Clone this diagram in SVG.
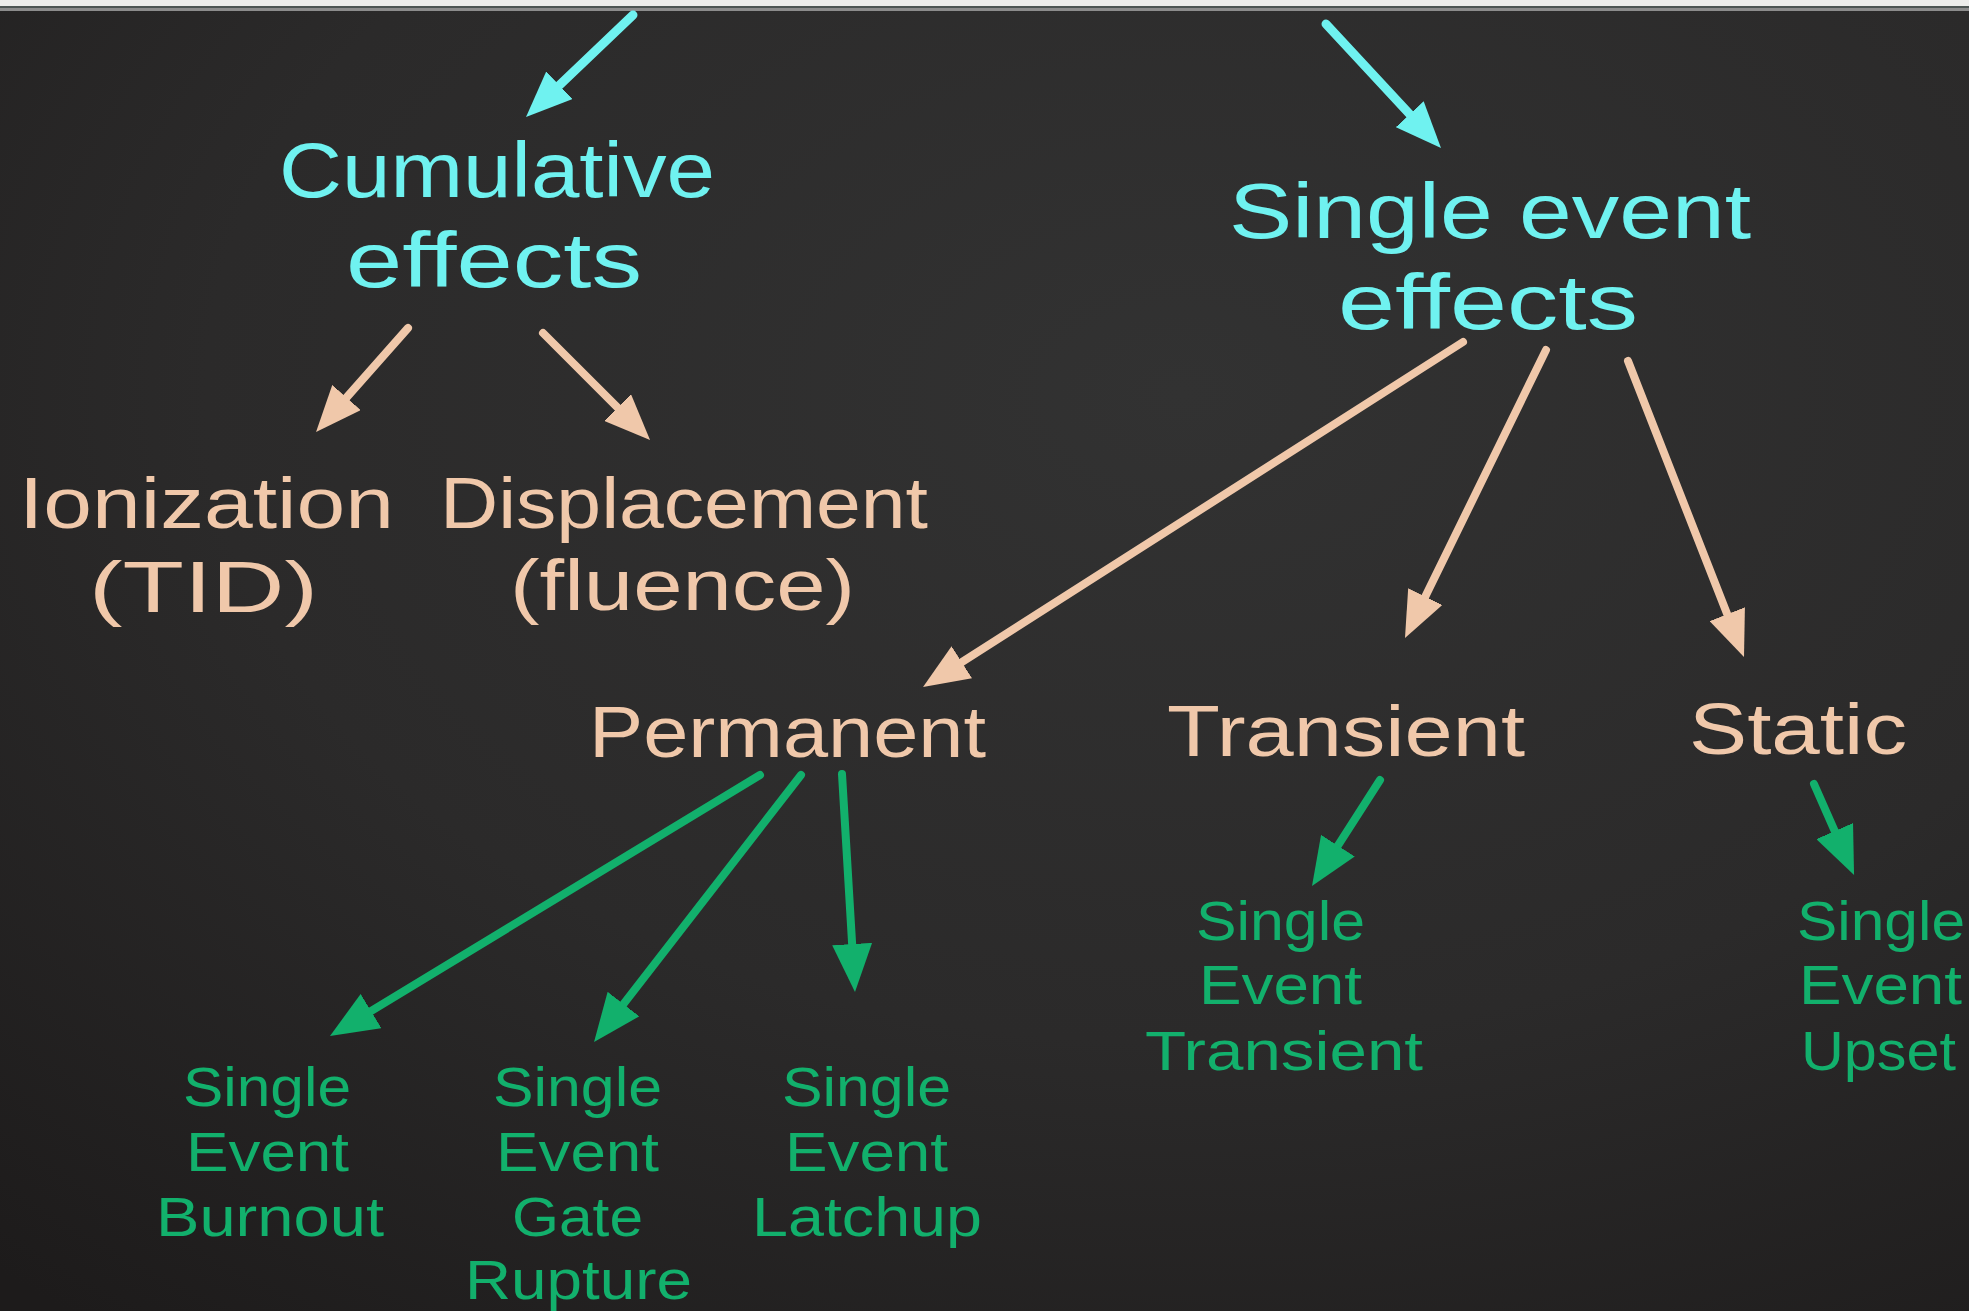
<svg xmlns="http://www.w3.org/2000/svg" width="1969" height="1311" viewBox="0 0 1969 1311">
  <style>
    text { font-family: "Liberation Sans", Arial, sans-serif; font-weight: normal; }
    .cy { fill: #6ff2f0; font-size: 78px; }
    .be { fill: #f0c8aa; font-size: 72px; }
    .gr { fill: #12b06c; font-size: 56px; }
    .lc { fill: none; stroke: #6ff2f0; stroke-width: 9; stroke-linecap: round; }
    .lb { fill: none; stroke: #f0c8aa; stroke-width: 8; stroke-linecap: round; }
    .lg { fill: none; stroke: #12b06c; stroke-width: 8; stroke-linecap: round; }
  </style>
  <defs>
    <radialGradient id="board" cx="0.6" cy="0.3" r="0.9">
      <stop offset="0" stop-color="#323232"/>
      <stop offset="0.55" stop-color="#2b2a2a"/>
      <stop offset="1" stop-color="#1d1b1b"/>
    </radialGradient>
    <marker id="hc" markerUnits="userSpaceOnUse" viewBox="0 0 46 38" markerWidth="46" markerHeight="38" refX="26" refY="19" orient="auto">
      <path d="M0,0 L46,19 L0,38 Z" fill="#6ff2f0"/>
    </marker>
    <marker id="hb" markerUnits="userSpaceOnUse" viewBox="0 0 46 38" markerWidth="46" markerHeight="38" refX="26" refY="19" orient="auto">
      <path d="M0,0 L46,19 L0,38 Z" fill="#f0c8aa"/>
    </marker>
    <marker id="hg" markerUnits="userSpaceOnUse" viewBox="0 0 48 40" markerWidth="48" markerHeight="40" refX="28" refY="20" orient="auto">
      <path d="M0,0 L48,20 L0,40 Z" fill="#12b06c"/>
    </marker>
  </defs>

  <rect x="0" y="0" width="1969" height="1311" fill="url(#board)"/>
  <rect x="0" y="0" width="1969" height="6" fill="#ededeb"/>
  <rect x="0" y="6" width="1969" height="2" fill="#4d5553"/>
  <rect x="0" y="8" width="1969" height="3" fill="#8c8c8c"/>

  <g id="connectors">
    <path class="lc" d="M633,15 L540.5,103.2" marker-end="url(#hc)"/>
    <path class="lc" d="M1326,24 L1427.4,133.3" marker-end="url(#hc)"/>
    <path class="lb" d="M408,328 L329.3,417" marker-end="url(#hb)"/>
    <path class="lb" d="M543,333 L635.9,425.9" marker-end="url(#hb)"/>
    <path class="lb" d="M1463,342 L939.9,676.2" marker-end="url(#hb)"/>
    <path class="lb" d="M1546,350 L1413.8,620" marker-end="url(#hb)"/>
    <path class="lb" d="M1628,361 L1736.7,638.4" marker-end="url(#hb)"/>
    <path class="lg" d="M1380,780 L1322.8,869.2" marker-end="url(#hg)"/>
    <path class="lg" d="M1814,784 L1846,856.7" marker-end="url(#hg)"/>
    <path class="lg" d="M760,775 L347.1,1025.6" marker-end="url(#hg)"/>
    <path class="lg" d="M801,775 L606.3,1026.2" marker-end="url(#hg)"/>
    <path class="lg" d="M842,774 L853.8,972" marker-end="url(#hg)"/>
  </g>

  <g id="cumulative">
    <text class="cy" x="279" y="197" textLength="436" lengthAdjust="spacingAndGlyphs">Cumulative</text>
    <text class="cy" x="346" y="287" textLength="296" lengthAdjust="spacingAndGlyphs">effects</text>
  </g>
  <g id="single-event-effects">
    <text class="cy" x="1229" y="238" textLength="522" lengthAdjust="spacingAndGlyphs">Single event</text>
    <text class="cy" x="1338" y="329" textLength="300" lengthAdjust="spacingAndGlyphs">effects</text>
  </g>
  <g id="ionization">
    <text class="be" x="19" y="528" textLength="375" lengthAdjust="spacingAndGlyphs">Ionization</text>
    <text class="be" x="89" y="612" textLength="229" lengthAdjust="spacingAndGlyphs">(TID)</text>
  </g>
  <g id="displacement">
    <text class="be" x="440" y="528" textLength="488" lengthAdjust="spacingAndGlyphs">Displacement</text>
    <text class="be" x="510" y="610" textLength="345" lengthAdjust="spacingAndGlyphs">(fluence)</text>
  </g>
  <g id="permanent">
    <text class="be" x="589" y="757" textLength="397" lengthAdjust="spacingAndGlyphs">Permanent</text>
  </g>
  <g id="transient">
    <text class="be" x="1167" y="756" textLength="358" lengthAdjust="spacingAndGlyphs">Transient</text>
  </g>
  <g id="static">
    <text class="be" x="1689" y="754" textLength="218" lengthAdjust="spacingAndGlyphs">Static</text>
  </g>

  <g id="seb">
    <text class="gr" x="183" y="1106" textLength="168" lengthAdjust="spacingAndGlyphs">Single</text>
    <text class="gr" x="186" y="1171" textLength="163" lengthAdjust="spacingAndGlyphs">Event</text>
    <text class="gr" x="156" y="1236" textLength="228" lengthAdjust="spacingAndGlyphs">Burnout</text>
  </g>
  <g id="segr">
    <text class="gr" x="493" y="1106" textLength="169" lengthAdjust="spacingAndGlyphs">Single</text>
    <text class="gr" x="496" y="1171" textLength="163" lengthAdjust="spacingAndGlyphs">Event</text>
    <text class="gr" x="512" y="1236" textLength="131" lengthAdjust="spacingAndGlyphs">Gate</text>
    <text class="gr" x="465" y="1299" textLength="227" lengthAdjust="spacingAndGlyphs">Rupture</text>
  </g>
  <g id="sel">
    <text class="gr" x="782" y="1106" textLength="169" lengthAdjust="spacingAndGlyphs">Single</text>
    <text class="gr" x="785" y="1171" textLength="163" lengthAdjust="spacingAndGlyphs">Event</text>
    <text class="gr" x="752" y="1236" textLength="230" lengthAdjust="spacingAndGlyphs">Latchup</text>
  </g>
  <g id="set">
    <text class="gr" x="1196" y="940" textLength="169" lengthAdjust="spacingAndGlyphs">Single</text>
    <text class="gr" x="1199" y="1004" textLength="163" lengthAdjust="spacingAndGlyphs">Event</text>
    <text class="gr" x="1145" y="1070" textLength="278" lengthAdjust="spacingAndGlyphs">Transient</text>
  </g>
  <g id="seu">
    <text class="gr" x="1797" y="940" textLength="168" lengthAdjust="spacingAndGlyphs">Single</text>
    <text class="gr" x="1799" y="1004" textLength="163" lengthAdjust="spacingAndGlyphs">Event</text>
    <text class="gr" x="1801" y="1070" textLength="155" lengthAdjust="spacingAndGlyphs">Upset</text>
  </g>
</svg>
